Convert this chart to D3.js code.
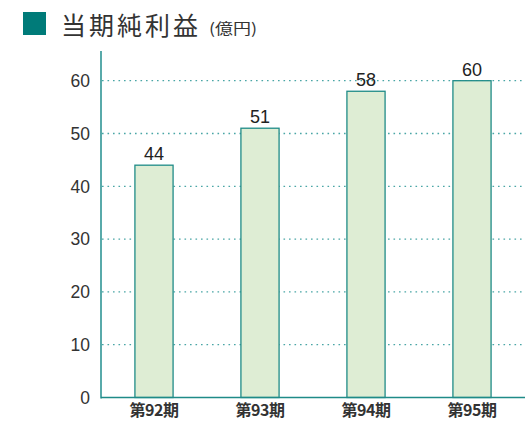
<!DOCTYPE html>
<html>
<head>
<meta charset="utf-8">
<script src="https://cdn.jsdelivr.net/npm/d3@7"></script>
<style>
  body { margin: 0; background: #fff; }
  svg { display: block; }
</style>
</head>
<body>
<svg id="chart" width="525" height="421"></svg>
<script>
// Chart data
const periods = ["第92期", "第93期", "第94期", "第95期"];
const profits = [44, 51, 58, 60];
const yTicks = [0, 10, 20, 30, 40, 50, 60];

const width = 525, height = 421;
const margin = {top: 51, right: 0, bottom: 23, left: 101};

let svg = d3.select("#chart");

// Title with square marker
svg.append("rect")
  .attr("x", 23).attr("y", 12)
  .attr("width", 23).attr("height", 23)
  .attr("fill", "#007b79");

svg.append("text")
  .attr("x", 61).attr("y", 35)
  .attr("fill", "#333")
  .attr("font-family", "'Noto Sans CJK JP', sans-serif")
  .attr("font-size", "25px")
  .attr("letter-spacing", "3px")
  .text("当期純利益");

// unit, drawn a little wide like the original
svg.append("text")
  .attr("transform", "translate(209,34) scale(1.2,1)")
  .attr("fill", "#333")
  .attr("font-family", "'Noto Sans CJK JP', sans-serif")
  .attr("font-size", "15px")
  .text("(億円)");

// Scales
let x = d3.scaleBand()
  .domain(periods)
  .range([margin.left, width - margin.right])
  .paddingInner(0.64)
  .paddingOuter(0.32);

let y = d3.scaleLinear()
  .domain([0, 60])
  .range([397.5, 80.7]);

// Dotted grid lines
svg.append("g")
  .selectAll("line")
  .data(yTicks.filter(d => d > 0))
  .join("line")
    .attr("x1", margin.left + 1)
    .attr("x2", width)
    .attr("y1", d => y(d))
    .attr("y2", d => y(d))
    .attr("stroke", "#4aa6a6")
    .attr("stroke-width", 1.3)
    .attr("stroke-dasharray", "1.6,3.9");

// Y tick labels
svg.append("g")
    .attr("font-family", "'Liberation Sans', Arial, sans-serif")
    .attr("font-size", "17.5px")
    .attr("fill", "#333")
    .attr("text-anchor", "end")
  .selectAll("text")
  .data(yTicks)
  .join("text")
    .attr("x", 90)
    .attr("y", d => y(d))
    .attr("dy", "0.36em")
    .text(d => d);

// Bars
svg.append("g")
  .selectAll("rect")
  .data(profits)
  .join("rect")
    .attr("x", (d, i) => x(periods[i]))
    .attr("y", d => y(d))
    .attr("width", x.bandwidth())
    .attr("height", d => y(0) - y(d))
    .attr("fill", "#deedd4")
    .attr("stroke", "#1f8b88")
    .attr("stroke-width", 1.3);

// Value labels
svg.append("g")
    .attr("font-family", "'Liberation Sans', Arial, sans-serif")
    .attr("font-size", "18px")
    .attr("fill", "#222")
    .attr("text-anchor", "middle")
  .selectAll("text")
  .data(profits)
  .join("text")
    .attr("x", (d, i) => x(periods[i]) + x.bandwidth() / 2)
    .attr("y", d => y(d) - 5)
    .text(d => d);

// Axes lines
svg.append("line")
  .attr("x1", margin.left).attr("x2", margin.left)
  .attr("y1", margin.top).attr("y2", y(0) + 1)
  .attr("stroke", "#2f9595")
  .attr("stroke-width", 1.6);

svg.append("line")
  .attr("x1", margin.left).attr("x2", width)
  .attr("y1", y(0)).attr("y2", y(0))
  .attr("stroke", "#1f8b88")
  .attr("stroke-width", 1.6);

// X labels
svg.append("g")
    .attr("font-family", "'Noto Sans CJK JP', sans-serif")
    .attr("font-size", "16px")
    .attr("font-weight", "bold")
    .attr("fill", "#333")
    .attr("text-anchor", "middle")
  .selectAll("text")
  .data(periods)
  .join("text")
    .attr("x", d => x(d) + x.bandwidth() / 2)
    .attr("y", 416)
    .attr("letter-spacing", "-0.5px")
    .text(d => d);
</script>
</body>
</html>
